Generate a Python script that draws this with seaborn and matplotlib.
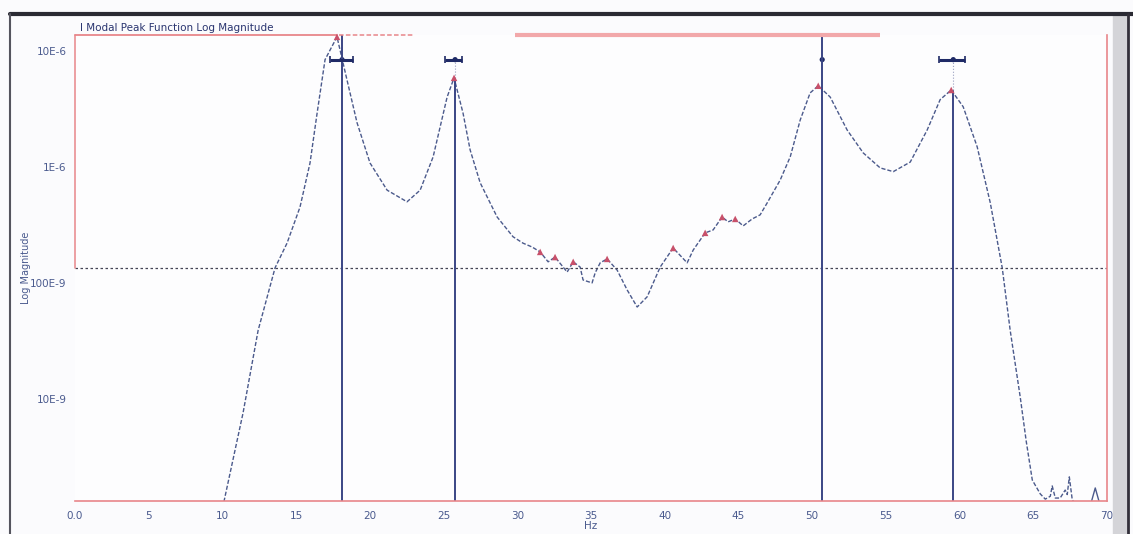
import numpy as np
import pandas as pd
import seaborn as sns
import matplotlib.pyplot as plt
from matplotlib.lines import Line2D
from matplotlib.patches import Rectangle

sns.set_theme(style="white")
plt.rcParams["font.family"] = ["DejaVu Sans"]

# frequency response (Hz, log magnitude)
freq = [10.1, 11.4, 12.42, 13.57, 14.38, 15.26, 15.94, 16.42, 16.96, 17.77,
        18.45, 19.13, 20.01, 21.17, 22.52, 23.41, 24.29, 25.24, 25.71, 26.32,
        26.8, 27.48, 28.63, 29.71, 30.39, 31.0, 31.55, 32.09, 32.56, 33.38,
        33.79, 34.26, 34.46, 35.07, 35.28, 35.62, 36.09, 36.77, 37.45, 38.13,
        38.81, 39.69, 40.57, 41.52, 41.93, 42.74, 43.28, 43.89, 44.3, 44.78,
        45.32, 45.93, 46.47, 46.95, 47.83, 48.51, 49.19, 49.86, 50.41, 51.22,
        52.37, 53.46, 54.61, 55.5, 56.65, 57.8, 58.68, 59.43, 60.24, 61.19,
        62.08, 62.89, 63.43, 64.11, 64.52, 64.93, 65.47, 65.81, 66.15, 66.28,
        66.49, 66.82, 67.16, 67.3, 67.44, 67.64, 67.84]
mag = [1.3e-9, 7.6e-9, 3.9e-8, 1.35e-7, 2.2e-7, 4.5e-7, 1.08e-6, 2.9e-6, 8.4e-6, 1.32e-5,
       5.6e-6, 2.4e-6, 1.08e-6, 6.3e-7, 5.0e-7, 6.3e-7, 1.22e-6, 4.0e-6, 5.85e-6, 2.9e-6,
       1.4e-6, 7.3e-7, 3.7e-7, 2.5e-7, 2.2e-7, 2.04e-7, 1.85e-7, 1.52e-7, 1.67e-7, 1.24e-7,
       1.52e-7, 1.37e-7, 1.06e-7, 1.0e-7, 1.22e-7, 1.49e-7, 1.61e-7, 1.29e-7, 8.7e-8, 6.2e-8,
       7.6e-8, 1.37e-7, 2.0e-7, 1.49e-7, 1.92e-7, 2.7e-7, 2.86e-7, 3.7e-7, 3.36e-7, 3.56e-7,
       3.1e-7, 3.56e-7, 3.86e-7, 4.9e-7, 7.7e-7, 1.22e-6, 2.54e-6, 4.34e-6, 5.0e-6, 4.0e-6,
       2.08e-6, 1.32e-6, 9.8e-7, 9.1e-7, 1.1e-6, 2.08e-6, 3.8e-6, 4.6e-6, 3.3e-6, 1.49e-6,
       4.9e-7, 1.35e-7, 3.9e-8, 1.04e-8, 4.3e-9, 2.0e-9, 1.52e-9, 1.37e-9, 1.45e-9, 1.78e-9,
       1.4e-9, 1.4e-9, 1.64e-9, 1.5e-9, 2.13e-9, 1.35e-9, 1.25e-9]
noise_freq = [68.9, 69.2, 69.5]
noise_mag = [1.25e-9, 1.71e-9, 1.25e-9]

# picked peaks (red markers)
peak_freq = [17.77, 25.71, 31.55, 32.56, 33.79, 36.09, 40.57, 42.74, 43.89, 44.78, 50.41, 59.43]
peak_mag = [1.32e-5, 5.85e-6, 1.85e-7, 1.67e-7, 1.52e-7, 1.61e-7, 2.0e-7, 2.7e-7, 3.7e-7, 3.56e-7, 5.0e-6, 4.6e-6]

# mode cursors and their frequency bands
mode_freq = [18.11, 25.78, 50.68, 59.57]
mode_peak = [1.32e-5, 5.85e-6, 5.0e-6, 4.6e-6]
band_lo = [17.3, 25.1, 50.68, 58.62]
band_hi = [18.86, 26.26, 50.68, 60.38]
band_level = 8.4e-6
threshold = 1.35e-7

xticks = [0, 5, 10, 15, 20, 25, 30, 35, 40, 45, 50, 55, 60, 65, 70]
xlabels = ["0.0", "5", "10", "15", "20", "25", "30", "35", "40", "45", "50", "55", "60", "65", "70"]
yticks = [1e-5, 1e-6, 1e-7, 1e-8]
ylabels = ["10E-6", "1E-6", "100E-9", "10E-9"]

ymin, ymax = 1.32e-9, 1.37e-5
curve_col = "#4b5a8c"
cursor_col = "#3a4685"
mark_col = "#c8506a"
edge_col = "#e8868a"
text_col = "#4a5a8e"

fig = plt.figure(figsize=(11.33, 5.34), dpi=100)
fig.patch.set_facecolor("#fbfbfd")
ax = fig.add_axes([0.0662, 0.0618, 0.9109, 0.8727])
ax.set_facecolor("#fdfdfe")

df = pd.DataFrame({"Hz": freq, "mag": mag})
sns.lineplot(data=df, x="Hz", y="mag", ax=ax, color=curve_col, linewidth=1.0,
             linestyle=(0, (3, 1.4)), sort=False)
sns.lineplot(x=noise_freq, y=noise_mag, ax=ax, color=curve_col, linewidth=1.0)

ax.set_yscale("log")
ax.set_xlim(0, 70)
ax.set_ylim(ymin, ymax)

# threshold line
ax.axhline(threshold, color="#444455", linestyle=(0, (2, 2)), linewidth=0.9)

# mode cursors
for i in range(len(mode_freq)):
    f = mode_freq[i]
    if i in (0, 2):
        ax.vlines(f, ymin, ymax, color=cursor_col, linewidth=1.4, clip_on=False)
    else:
        ax.vlines(f, ymin, mode_peak[i], color=cursor_col, linewidth=1.4)
        ax.vlines(f, mode_peak[i], band_level, color="#9aa0c0",
                  linewidth=0.8, linestyle=":")
    if band_hi[i] > band_lo[i]:
        ax.hlines(band_level, band_lo[i], band_hi[i], color="#1f2a66", linewidth=2.2)
        ax.vlines([band_lo[i], band_hi[i]], band_level / 1.07, band_level * 1.07,
                  color="#1f2a66", linewidth=1.2)
    sns.scatterplot(x=[f], y=[band_level], ax=ax, color="#1f2a66", s=14,
                    edgecolor="none", legend=False)

sns.scatterplot(x=peak_freq, y=peak_mag, ax=ax, color=mark_col, marker="^", s=22,
                edgecolor="none", legend=False, zorder=5, clip_on=False)

# red frame pieces
for s in ["top", "left"]:
    ax.spines[s].set_visible(False)
for s in ["bottom", "right"]:
    ax.spines[s].set_color(edge_col)
    ax.spines[s].set_linewidth(1.2)
ax.plot([0, 17.77], [ymax, ymax], color=edge_col, linewidth=1.3, clip_on=False)
ax.plot([17.9, 23.0], [ymax, ymax], color=edge_col, linewidth=1.1,
        linestyle=(0, (3, 1.5)), clip_on=False)
ax.plot([29.85, 54.6], [ymax, ymax], color="#f2a8aa", linewidth=3.0,
        solid_capstyle="butt", clip_on=False)
ax.plot([0, 0], [threshold, ymax], color=edge_col, linewidth=1.1, clip_on=False)

ax.set_xticks(xticks)
ax.set_xticklabels(xlabels)
ax.set_yticks(yticks)
ax.set_yticklabels(ylabels)
ax.minorticks_off()
ax.tick_params(axis="x", length=3, color=edge_col, labelsize=7.5, labelcolor=text_col, pad=4)
ax.tick_params(axis="y", length=0, labelsize=7.5, labelcolor=text_col, pad=6)
ax.set_xlabel("Hz", fontsize=7.5, color=text_col, labelpad=0)
ax.set_ylabel("Log Magnitude", fontsize=7, color=text_col)
ax.yaxis.set_label_coords(-0.043, 0.5)
ax.text(0.005, 1.005, "l Modal Peak Function Log Magnitude", transform=ax.transAxes,
        fontsize=7.5, color="#2a3570", ha="left", va="bottom")

# window chrome
fig.add_artist(Line2D([0.009, 1.0], [0.974, 0.974], color="#2a2a33", linewidth=3))
fig.add_artist(Line2D([0.009, 0.009], [0.0, 0.974], color="#55555e", linewidth=1.5))
fig.add_artist(Rectangle((0.982, 0.0), 0.013, 0.974, color="#d4d4d8"))
fig.add_artist(Line2D([0.996, 0.996], [0.0, 0.974], color="#33303a", linewidth=2))

plt.savefig("out.png", dpi=100)
